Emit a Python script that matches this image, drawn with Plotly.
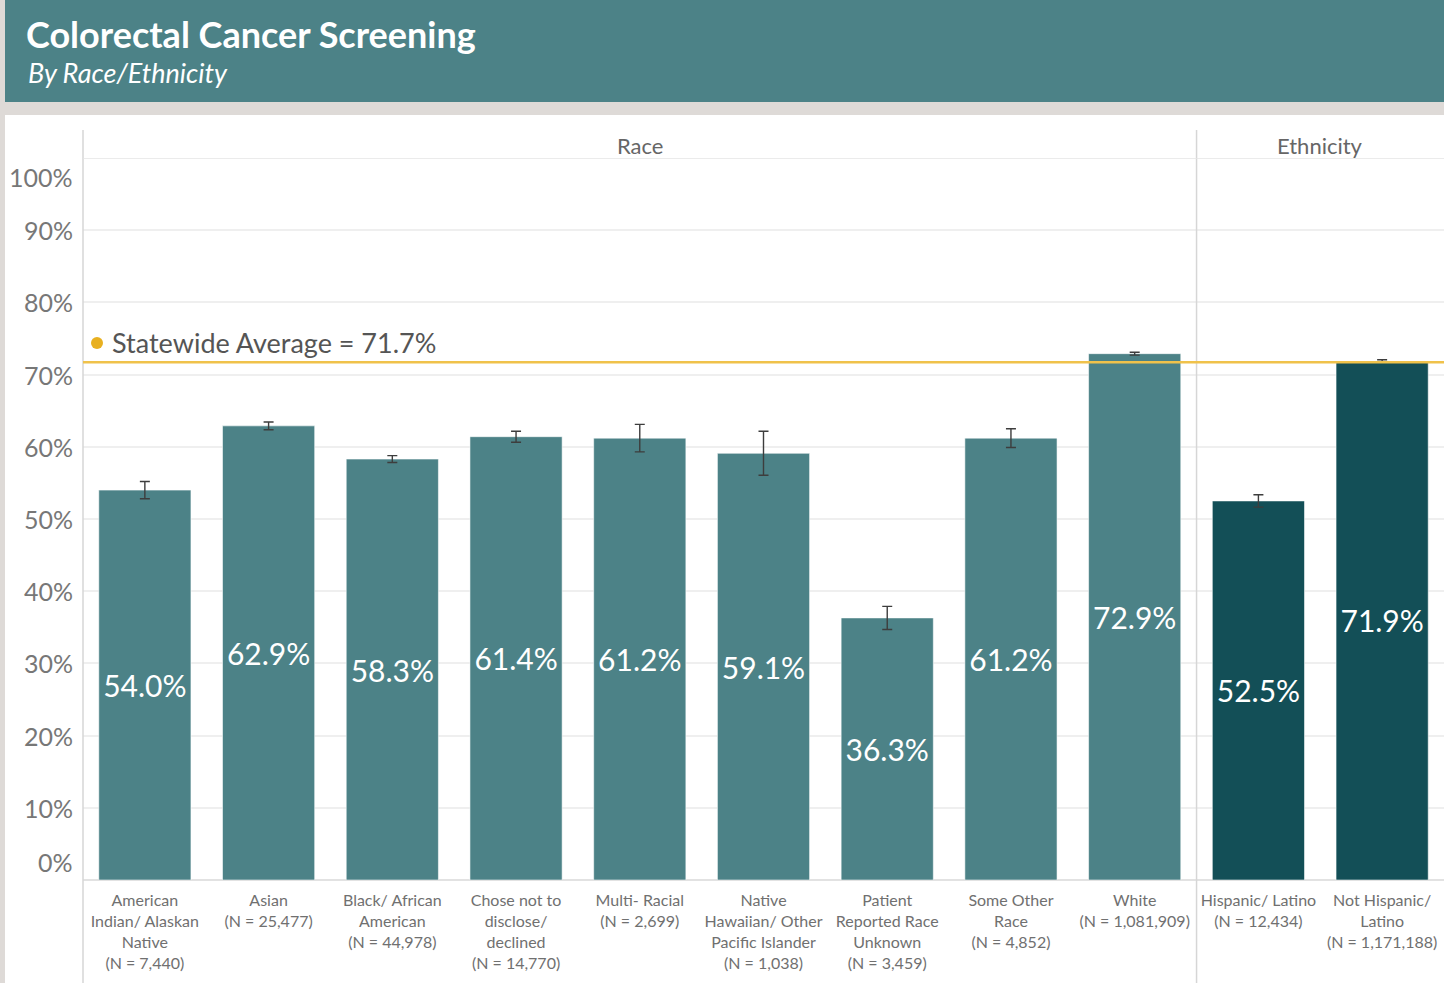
import plotly.graph_objects as go

# --- data ---
categories = [
    "American<br>Indian/ Alaskan<br>Native",
    "Asian",
    "Black/ African<br>American",
    "Chose not to<br>disclose/<br>declined",
    "Multi- Racial",
    "Native<br>Hawaiian/ Other<br>Pacific Islander",
    "Patient<br>Reported Race<br>Unknown",
    "Some Other<br>Race",
    "White",
    "Hispanic/ Latino",
    "Not Hispanic/<br>Latino",
]
groups = ["Race"] * 9 + ["Ethnicity"] * 2
sample_sizes = [7440, 25477, 44978, 14770, 2699, 1038, 3459, 4852, 1081909, 12434, 1171188]
rates = [54.0, 62.9, 58.3, 61.4, 61.2, 59.1, 36.3, 61.2, 72.9, 52.5, 71.9]
errors = [1.2, 0.53, 0.48, 0.76, 1.9, 3.05, 1.6, 1.3, 0.2, 0.85, 0.16]
statewide_avg = 71.7
y_ticks = [0, 10, 20, 30, 40, 50, 60, 70, 80, 90, 100]

TEAL = "#4C8287"
DARK_TEAL = "#134F57"
GOLD = "#F0C24B"
FONT = "Lato, 'Source Sans Pro', sans-serif"

W, H = 1444, 983
PLOT_L, PLOT_R, PLOT_T, PLOT_B = 83, 1444, 158, 880


def px_x(p):
    return (p - PLOT_L) / (PLOT_R - PLOT_L)


def px_y(p):
    return (PLOT_B - p) / (PLOT_B - PLOT_T)


tick_text = [f"{c}<br>(N = {n:,})" for c, n in zip(categories, sample_sizes)]
bar_colors = [TEAL if g == "Race" else DARK_TEAL for g in groups]

fig = go.Figure()
fig.add_trace(go.Bar(
    x=list(range(len(categories))),
    y=rates,
    marker=dict(color=bar_colors, line=dict(color="rgba(255,255,255,0.55)", width=1)),
    text=[f"{v:.1f}%" for v in rates],
    textposition="inside",
    insidetextanchor="middle",
    textfont=dict(family=FONT, size=30, color="white"),
    error_y=dict(type="data", array=errors, color="#3d3d3d", thickness=1.4, width=5),
    hoverinfo="skip",
    cliponaxis=False,
))

shapes = [
    # background panels
    dict(type="rect", xref="paper", yref="paper", layer="below",
         x0=px_x(5), x1=px_x(1444), y0=px_y(0), y1=px_y(102),
         fillcolor=TEAL, line=dict(width=0)),
    dict(type="rect", xref="paper", yref="paper", layer="below",
         x0=px_x(5), x1=px_x(1444), y0=px_y(115), y1=px_y(983),
         fillcolor="white", line=dict(width=0)),
    # left axis line and race/ethnicity separator
    dict(type="line", xref="paper", yref="paper", x0=0, x1=0,
         y0=px_y(130), y1=px_y(983), line=dict(color="#D6D6D6", width=1.5)),
    dict(type="line", xref="x", yref="paper", x0=8.5, x1=8.5,
         y0=px_y(130), y1=px_y(983), line=dict(color="#D6D6D6", width=1.5)),
    # header underline (100% line)
    dict(type="line", xref="paper", yref="y", x0=0, x1=1, y0=100, y1=100,
         line=dict(color="#E4E4E4", width=1.5)),
    # statewide average
    dict(type="line", xref="paper", yref="y", x0=0, x1=1,
         y0=statewide_avg, y1=statewide_avg, line=dict(color=GOLD, width=2.5), layer="above"),
    dict(type="circle", xref="paper", yref="paper",
         x0=px_x(91), x1=px_x(103), y0=px_y(337), y1=px_y(349),
         fillcolor="#E8B020", line=dict(width=0)),
]

annotations = [
    dict(text="<b>Colorectal Cancer Screening</b>", xref="paper", yref="paper",
         x=px_x(24), y=px_y(34), xanchor="left", yanchor="middle", showarrow=False,
         font=dict(family=FONT, size=36, color="white")),
    dict(text="<i>By Race/Ethnicity</i>", xref="paper", yref="paper",
         x=px_x(26), y=px_y(73), xanchor="left", yanchor="middle", showarrow=False,
         font=dict(family=FONT, size=27, color="white")),
    dict(text="Race", xref="x", yref="paper", x=4, y=px_y(146),
         xanchor="center", yanchor="middle", showarrow=False,
         font=dict(family=FONT, size=22, color="#666666")),
    dict(text="Ethnicity", xref="x", yref="paper", x=9.5, y=px_y(146),
         xanchor="center", yanchor="middle", showarrow=False,
         font=dict(family=FONT, size=22, color="#666666")),
    dict(text=f"Statewide Average = {statewide_avg}%", xref="paper", yref="paper",
         x=px_x(110), y=px_y(342), xanchor="left", yanchor="middle", showarrow=False,
         font=dict(family=FONT, size=27, color="#555555")),
]

# y tick labels; the end labels sit inside the plot like the reference
edge_shift = {0: 18, 100: -19}
for t in y_ticks:
    annotations.append(dict(
        text=f"{t}%", xref="paper", yref="y", x=px_x(75), y=t,
        xanchor="right", yanchor="middle", showarrow=False,
        yshift=edge_shift.get(t, 0),
        font=dict(family=FONT, size=25, color="#777777"),
    ))

fig.update_layout(
    width=W, height=H,
    margin=dict(l=PLOT_L, r=W - PLOT_R, t=PLOT_T, b=H - PLOT_B, pad=0),
    paper_bgcolor="#DEDAD7",
    plot_bgcolor="white",
    showlegend=False,
    bargap=0.255,
    shapes=shapes,
    annotations=annotations,
    font=dict(family=FONT),
)
fig.update_xaxes(
    range=[-0.5, len(categories) - 0.5],
    tickmode="array",
    tickvals=list(range(len(categories))),
    ticktext=tick_text,
    tickfont=dict(family=FONT, size=16, color="#707070"),
    ticks="outside", ticklen=6, tickcolor="white",
    showgrid=False, showline=False, zeroline=False,
)
fig.update_yaxes(
    range=[0, 100],
    tickvals=y_ticks,
    showticklabels=False,
    showgrid=True, gridcolor="#EFEFEF", gridwidth=1.5,
    zeroline=True, zerolinecolor="#E2E2E2", zerolinewidth=1.5,
    showline=False,
)

# drop the browser's default 8px page margin so the figure fills the window
fig.write_html(
    "out.html",
    config={"displayModeBar": False},
    post_script="document.body.style.margin='0';",
)
